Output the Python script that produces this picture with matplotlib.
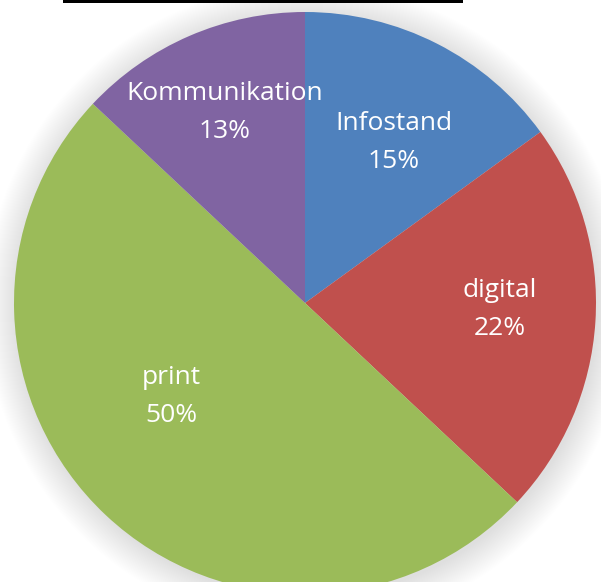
import numpy as np
import matplotlib.pyplot as plt
from matplotlib.patches import Circle, Rectangle

categories = ['Infostand', 'digital', 'print', 'Kommunikation']
shares = [15, 22, 50, 13]
colors = ['#4F81BD', '#C0504D', '#9BBB59', '#8064A2']

# label placement (radius as fraction of pie radius, angle in degrees)
label_radius = [0.63, 0.67, 0.56, 0.71]
label_angle = [61, -2, 215, 113]

W, H = 601, 582
fig = plt.figure(figsize=(W / 100, H / 100), dpi=100)
ax = fig.add_axes([0, 0, 1, 1])

cx, cy, R = 305, H - 303, 291

# soft shadow behind the pie
for d in np.arange(0, 32, 1.0):
    ax.add_patch(Circle((cx + 2, cy - 3), R + d, color='black', alpha=0.0045,
                        lw=0, zorder=0))

wedges, _ = ax.pie(shares, colors=colors, startangle=90, counterclock=False,
                   center=(cx, cy), radius=R,
                   wedgeprops=dict(linewidth=0, zorder=2))
for w in wedges:
    w.set_zorder(2)

for name, val, r, a in zip(categories, shares, label_radius, label_angle):
    x = cx + r * R * np.cos(np.radians(a))
    y = cy + r * R * np.sin(np.radians(a))
    ax.text(x, y, f'{name}\n{val}%', ha='center', va='center', color='white',
            fontsize=19, family=['Open Sans', 'DejaVu Sans'],
            linespacing=1.7, zorder=3)

# clipped title remnant at the top edge
ax.add_patch(Rectangle((63, H - 3), 400, 4, color='black', lw=0, zorder=4))

ax.set_xlim(0, W)
ax.set_ylim(0, H)
ax.set_aspect('auto')
ax.axis('off')

fig.savefig('out.png', dpi=100)
